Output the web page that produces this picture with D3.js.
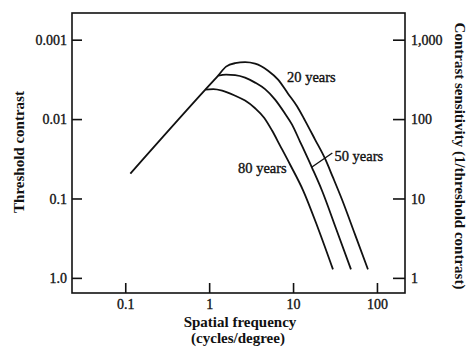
<!DOCTYPE html>
<html>
<head>
<meta charset="utf-8">
<script src="https://cdn.jsdelivr.net/npm/d3@7"></script>
<style>
  html, body { margin: 0; padding: 0; background: #fff; }
  svg { display: block; }
  text { font-family: "Liberation Serif", "DejaVu Serif", serif; fill: #111; }
</style>
</head>
<body>
<svg id="chart" width="469" height="351"></svg>
<script>
// ---- data ----
const freqTicks = [0.1, 1, 10, 100];
const freqTickLabels = ["0.1", "1", "10", "100"];
const sensTicks = [1000, 100, 10, 1];
const thresholdTickLabels = ["0.001", "0.01", "0.1", "1.0"];
const sensitivityTickLabels = ["1,000", "100", "10", "1"];

// 20-year curve, including the shared rising limb
const freq20 = [0.115, 0.9, 1.28, 1.59, 2.04, 2.68, 3.53, 5.04, 6.63, 8.72, 11.2, 13.9, 18.3, 24.0, 29.9, 38.3, 54.7, 78.1];
const sens20 = [20.6, 235, 353, 458, 506, 521, 499, 407, 314, 209, 144, 95.7, 55.2, 31.9, 18.4, 9.71, 3.53, 1.28];
// branches leaving the rising limb
const freq50 = [1.28, 1.59, 2.04, 2.68, 3.53, 4.64, 6.11, 8.03, 9.73, 12.1, 16.8, 22.1, 32.5, 49.0];
const sens50 = [353, 363, 358, 333, 288, 238, 176, 117, 85.3, 52.1, 24.5, 12.6, 4.19, 1.28];
const freq80 = [0.9, 1.12, 1.43, 2.04, 2.68, 3.53, 4.52, 5.62, 7.0, 9.21, 13.2, 19.9, 29.9];
const sens80 = [235, 238, 228, 197, 171, 137, 104, 71.7, 46.4, 26.8, 12.6, 4.19, 1.28];

const seriesLabels = ["20 years", "50 years", "80 years"];
const labelFreq = [8.47, 31.1, 2.21];
const labelSens = [293, 29.7, 20.9];
const leaderFreq = [16.8, 29.4];
const leaderSens = [24.9, 37.4];

// ---- layout ----
const svg = d3.select("#chart");
const L = 72, R = 405, T = 13, B = 293;

const x = d3.scaleLog().domain([0.02319, 215.9]).range([L, R]);
const y = d3.scaleLog().domain([0.645, 2168]).range([B, T]);

const ink = "#111";

// frame
svg.append("rect")
  .attr("x", L).attr("y", T).attr("width", R - L).attr("height", B - T)
  .attr("fill", "none").attr("stroke", ink).attr("stroke-width", 1.6);

const tickFont = 14;
function styleTickText(sel) {
  sel.attr("font-size", tickFont)
    .style("font-family", '"Liberation Serif", serif')
    .attr("fill", ink).attr("stroke", ink).attr("stroke-width", 0.35);
}

// bottom axis (ticks inward)
const xAxis = d3.axisTop(x).tickValues(freqTicks)
  .tickFormat((d, i) => freqTickLabels[i]).tickSize(10).tickPadding(0);
const gx = svg.append("g").attr("transform", `translate(0,${B})`).call(xAxis);
gx.select(".domain").remove();
gx.selectAll(".tick line").attr("stroke", ink).attr("stroke-width", 1.6);
gx.selectAll(".tick text").attr("y", 16).attr("dy", 0).attr("text-anchor", "middle")
  .call(styleTickText);

// left axis (threshold contrast), ticks inward
const yAxisL = d3.axisRight(y).tickValues(sensTicks)
  .tickFormat((d, i) => thresholdTickLabels[i]).tickSize(10);
const gl = svg.append("g").attr("transform", `translate(${L},0)`).call(yAxisL);
gl.select(".domain").remove();
gl.selectAll(".tick line").attr("stroke", ink).attr("stroke-width", 1.6);
gl.selectAll(".tick text").attr("x", -5).attr("dy", "0.35em").attr("text-anchor", "end")
  .call(styleTickText);

// right axis (sensitivity), ticks inward
const yAxisR = d3.axisLeft(y).tickValues(sensTicks)
  .tickFormat((d, i) => sensitivityTickLabels[i]).tickSize(12);
const gr = svg.append("g").attr("transform", `translate(${R},0)`).call(yAxisR);
gr.select(".domain").remove();
gr.selectAll(".tick line").attr("stroke", ink).attr("stroke-width", 1.6);
gr.selectAll(".tick text").attr("x", 6).attr("dy", "0.35em").attr("text-anchor", "start")
  .call(styleTickText);

// curves
const lineLin = d3.line().x(d => x(d[0])).y(d => y(d[1]));
const lineSmooth = d3.line().x(d => x(d[0])).y(d => y(d[1])).curve(d3.curveMonotoneX);
const zip = (a, b) => a.map((v, i) => [v, b[i]]);

[[freq20, sens20], [freq50, sens50], [freq80, sens80]].forEach(([f, s]) => {
  svg.append("path").attr("d", lineSmooth(zip(f, s)))
    .attr("fill", "none").attr("stroke", ink).attr("stroke-width", 1.8)
    .attr("stroke-linejoin", "round");
});

// leader line for 50 years
svg.append("path").attr("d", lineLin(zip(leaderFreq, leaderSens)))
  .attr("fill", "none").attr("stroke", ink).attr("stroke-width", 1.4);

// series labels
seriesLabels.forEach((t, i) => {
  svg.append("text")
    .attr("x", x(labelFreq[i])).attr("y", y(labelSens[i]))
    .attr("font-size", 14.5).attr("fill", ink)
    .attr("stroke", ink).attr("stroke-width", 0.35).text(t);
});

// axis titles
svg.append("text")
  .attr("x", 240).attr("y", 327).attr("text-anchor", "middle")
  .attr("font-size", 15).attr("font-weight", "bold").text("Spatial frequency");
svg.append("text")
  .attr("x", 238).attr("y", 343).attr("text-anchor", "middle")
  .attr("font-size", 15).attr("font-weight", "bold").text("(cycles/degree)");
svg.append("text")
  .attr("transform", "translate(24,152) rotate(-90)")
  .attr("text-anchor", "middle")
  .attr("font-size", 15).attr("font-weight", "bold").text("Threshold contrast");
svg.append("text")
  .attr("transform", "translate(455,156) rotate(90)")
  .attr("text-anchor", "middle")
  .attr("font-size", 15).attr("font-weight", "bold").text("Contrast sensitivity (1/threshold contrast)");
</script>
</body>
</html>
